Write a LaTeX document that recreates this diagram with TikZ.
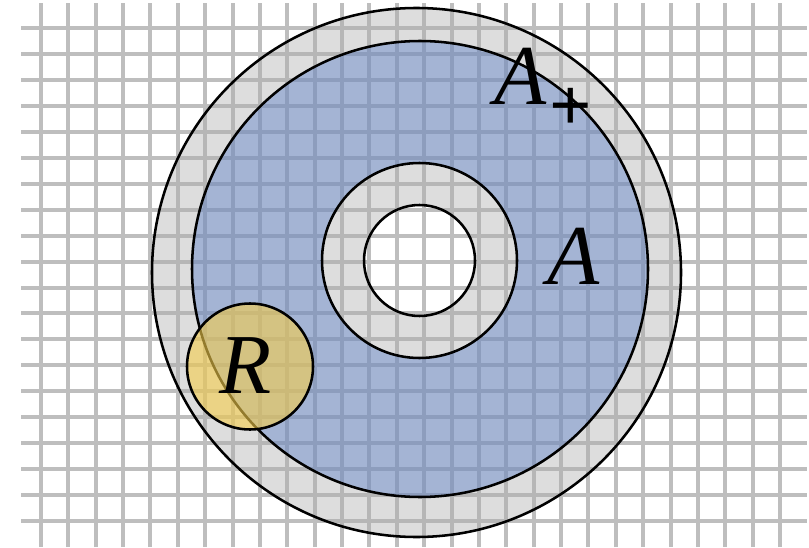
\documentclass[tikz,border=0pt]{standalone}
\usepackage{fontspec}
\newfontfamily\lblfont{Liberation Serif}
\definecolor{gridgray}{RGB}{190,190,190}
\definecolor{shellgray}{RGB}{170,170,170}
\definecolor{bulkblue}{RGB}{115,140,189}
\definecolor{regyellow}{RGB}{245,205,75}

\begin{document}
\begin{tikzpicture}[
    x=0.75pt,y=0.75pt,
    gridline/.style={gridgray,line width=3pt},
    border/.style={black,line width=1.9pt},
    shell/.style={fill=shellgray,fill opacity=0.4,even odd rule},
    bulk/.style={fill=bulkblue,fill opacity=0.65,even odd rule},
    region/.style={border,fill=regyellow,fill opacity=0.6},
    lbl/.style={font=\lblfont\itshape\fontsize{64}{64}\selectfont,inner sep=0pt}
]
\useasboundingbox (0,0) rectangle (809,547);

% centres
\coordinate (outer) at (416.5,274.5);
\coordinate (mid) at (420,278);
\coordinate (core) at (419.5,286.5);
\coordinate (reg) at (250,180.5);

% grid
\foreach \k in {0,...,27}
  \draw[gridline] (41+27.37*\k,0) -- (41+27.37*\k,544);
\foreach \j in {0,...,19}
  \draw[gridline] (21,519-25.95*\j) -- (807,519-25.95*\j);

% shells and bulk
\fill[shell] (outer) circle (264.5) (mid) circle (228);
\fill[bulk] (mid) circle (228) (core) circle (97.5);
\fill[shell] (core) circle (97.5) circle (55.5);

% boundaries
\draw[border] (outer) circle (264.5);
\draw[border] (mid) circle (228);
\draw[border] (core) circle (97.5);
\draw[border] (core) circle (55.5);

% region R
\draw[region] (reg) circle (63);

% labels
\node[lbl,anchor=base west] (Aplus) at (494,442)
  {A\kern2pt\raisebox{-19.5pt}{\fontsize{56}{56}\selectfont\upshape\bfseries+}};
\node[lbl] (A) at (574,291) {A};
\node[lbl] (R) at (246,181) {R};

\end{tikzpicture}
\end{document}
